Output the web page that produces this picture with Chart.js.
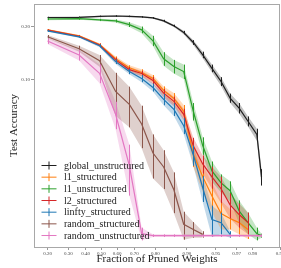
<!DOCTYPE html>
<html>
<head>
<meta charset="utf-8">
<style>
  html, body { margin: 0; padding: 0; background: #fff; }
</style>
</head>
<body>
<canvas id="myChart" width="281" height="268"></canvas>

<script src="https://cdn.jsdelivr.net/npm/chart.js"></script>
<script>
// fraction of weights pruned after each pruning round
const fractions = [0.2, 0.36, 0.488, 0.5904, 0.6723, 0.7379, 0.7903, 0.8322, 0.8658, 0.8926,
  0.9141, 0.9313, 0.945, 0.956, 0.9648, 0.9719, 0.9775, 0.982, 0.984];

const xTicks = [0.2, 0.3, 0.4, 0.5, 0.6, 0.7, 0.8, 0.9, 0.95, 0.97, 0.98, 0.99];
const yTicks = [0.1, 0.2];

// mean test accuracy per method
const globalUnstructured = [0.224, 0.2245, 0.227, 0.228, 0.227, 0.2255, 0.223, 0.215, 0.2025, 0.1865,
  0.1645, 0.140, 0.117, 0.0977, 0.0775, 0.0672, 0.0556, 0.0459, 0.0245];
const l1Structured = [0.1928, 0.179, 0.160, 0.1332, 0.118, 0.1105, 0.1018, 0.0863, 0.0771, 0.0642,
  0.0344, 0.0245, 0.0184, 0.0141, 0.0131, 0.0123, 0.0111];
const l1Unstructured = [0.220, 0.221, 0.2176, 0.215, 0.2057, 0.1928, 0.168, 0.133, 0.12, 0.112,
  0.0642, 0.039, 0.0268, 0.0224, 0.0199, 0.0147, 0.0123, 0.0104, 0.0101];
const l2Structured = [0.192, 0.178, 0.159, 0.131, 0.115, 0.109, 0.099, 0.083, 0.074, 0.0615,
  0.0387, 0.0297, 0.0245, 0.0205, 0.0161, 0.0139, 0.0123];
const linftyStructured = [0.1905, 0.1768, 0.1577, 0.128, 0.112, 0.1018, 0.0899, 0.076, 0.066, 0.0521,
  0.0339, 0.0208, 0.0129, 0.0123, 0.0103];
const randomStructured = [0.1768, 0.1517, 0.1297, 0.085, 0.0709, 0.0535, 0.0349, 0.0284, 0.0202, 0.0120,
  0.0111, 0.0103];
const randomUnstructured = [0.1675, 0.1398, 0.1094, 0.0615, 0.029, 0.0104, 0.0101, 0.0101, 0.0101, 0.0101,
  0.0101, 0.0101, 0.0101, 0.0101, 0.0101, 0.0101, 0.0101, 0.0101, 0.0101];

// std of test accuracy (error bars and shaded band)
const globalUnstructuredErr = [0.002, 0.002, 0.002, 0.002, 0.002, 0.002, 0.002, 0.003, 0.003, 0.004,
  0.005, 0.006, 0.006, 0.006, 0.005, 0.005, 0.004, 0.004, 0.003];
const l1StructuredErr = [0.002, 0.002, 0.003, 0.004, 0.004, 0.005, 0.005, 0.005, 0.006, 0.006,
  0.006, 0.005, 0.004, 0.003, 0.002, 0.002, 0.0015];
const l1UnstructuredErr = [0.003, 0.003, 0.003, 0.004, 0.006, 0.008, 0.011, 0.012, 0.011, 0.011,
  0.008, 0.005, 0.004, 0.003, 0.003, 0.0025, 0.002, 0.001, 0.0003];
const l2StructuredErr = [0.002, 0.002, 0.003, 0.004, 0.004, 0.004, 0.005, 0.005, 0.005, 0.005,
  0.005, 0.004, 0.004, 0.004, 0.003, 0.0025, 0.002];
const linftyStructuredErr = [0.002, 0.002, 0.003, 0.004, 0.004, 0.005, 0.005, 0.006, 0.006, 0.006,
  0.005, 0.004, 0.003, 0.002, 0.0005];
const randomStructuredErr = [0.004, 0.006, 0.01, 0.025, 0.02, 0.016, 0.011, 0.008, 0.006, 0.0025,
  0.0013, 0.0005];
const randomUnstructuredErr = [0.006, 0.01, 0.014, 0.012, 0.0105, 0.001, 0.0002, 0.0002, 0.0002, 0.0002,
  0.0002, 0.0002, 0.0002, 0.0002, 0.0002, 0.0002, 0.0002, 0.0002, 0.0002];

const series = [
  { name: 'global_unstructured', color: '#1f1f1f', band: 'rgba(31,31,31,0.28)', mean: globalUnstructured, err: globalUnstructuredErr },
  { name: 'l1_structured', color: '#ff7f0e', band: 'rgba(255,127,14,0.28)', mean: l1Structured, err: l1StructuredErr },
  { name: 'l1_unstructured', color: '#2ca02c', band: 'rgba(44,160,44,0.28)', mean: l1Unstructured, err: l1UnstructuredErr },
  { name: 'l2_structured', color: '#d62728', band: 'rgba(214,39,40,0.28)', mean: l2Structured, err: l2StructuredErr },
  { name: 'linfty_structured', color: '#1f77b4', band: 'rgba(31,119,180,0.28)', mean: linftyStructured, err: linftyStructuredErr },
  { name: 'random_structured', color: '#8c564b', band: 'rgba(140,86,75,0.28)', mean: randomStructured, err: randomStructuredErr },
  { name: 'random_unstructured', color: '#e377c2', band: 'rgba(227,119,194,0.28)', mean: randomUnstructured, err: randomUnstructuredErr }
];

// logit axes: values are passed through logit, ticks are shown back as fractions
const logit = p => Math.log(p / (1 - p));
const expit = z => 1 / (1 + Math.exp(-z));
const toPoints = arr => arr.map((v, j) => ({ x: logit(fractions[j]), y: logit(v) }));

const datasets = [];
series.forEach((s, i) => {
  datasets.push({
    label: s.name, data: toPoints(s.mean), borderColor: s.color, borderWidth: 1.2,
    pointRadius: 0, fill: false, tension: 0, order: 6 - i
  });
});
series.forEach(s => {
  datasets.push({
    label: '_lo', data: toPoints(s.mean.map((v, j) => v - s.err[j])),
    borderWidth: 0, pointRadius: 0, fill: false, order: 20
  });
  datasets.push({
    label: '_hi', data: toPoints(s.mean.map((v, j) => v + s.err[j])),
    borderWidth: 0, pointRadius: 0, backgroundColor: s.band, fill: '-1', order: 20
  });
});

const errorBars = {
  id: 'errorBars',
  afterDatasetsDraw(chart) {
    const { ctx, chartArea, scales: { x, y } } = chart;
    ctx.save();
    ctx.beginPath();
    ctx.rect(chartArea.left, chartArea.top, chartArea.right - chartArea.left, chartArea.bottom - chartArea.top);
    ctx.clip();
    ctx.lineWidth = 1;
    series.forEach(s => {
      ctx.strokeStyle = s.color;
      s.mean.forEach((v, j) => {
        const px = Math.round(x.getPixelForValue(logit(fractions[j]))) + 0.5;
        ctx.beginPath();
        ctx.moveTo(px, y.getPixelForValue(logit(v - s.err[j])));
        ctx.lineTo(px, y.getPixelForValue(logit(v + s.err[j])));
        ctx.stroke();
      });
    });
    ctx.restore();
  }
};

const frameAndLegend = {
  id: 'frameAndLegend',
  afterDraw(chart) {
    const { ctx, chartArea } = chart;
    ctx.save();
    ctx.strokeStyle = '#a8a8a8';
    ctx.lineWidth = 1;
    ctx.strokeRect(chartArea.left + 0.5, chartArea.top + 0.5,
      chartArea.right - chartArea.left - 1, chartArea.bottom - chartArea.top);

    ctx.font = '10px "Liberation Serif"';
    ctx.textBaseline = 'middle';
    const lx = chartArea.left + 7.5;
    series.forEach((s, i) => {
      const cy = 165.5 + i * 11.67;
      ctx.strokeStyle = s.color;
      ctx.beginPath();
      ctx.moveTo(lx, cy); ctx.lineTo(lx + 15, cy);
      ctx.moveTo(lx + 7.5, cy - 4); ctx.lineTo(lx + 7.5, cy + 4);
      ctx.stroke();
      ctx.fillStyle = '#222';
      ctx.fillText(s.name, lx + 22.5, cy + 0.5);
    });
    ctx.restore();
  }
};

const ctx = document.getElementById('myChart');

new Chart(ctx, {
  type: 'line',
  data: { datasets: datasets },
  plugins: [errorBars, frameAndLegend],
  options: {
    responsive: false,
    devicePixelRatio: 1,
    animation: false,
    layout: { autoPadding: false, padding: { top: 2, right: 1, left: 0, bottom: 0 } },
    plugins: { legend: { display: false }, tooltip: { enabled: false } },
    scales: {
      x: {
        type: 'linear',
        min: logit(0.15),
        max: logit(0.99),
        afterBuildTicks: sc => { sc.ticks = xTicks.map(p => ({ value: logit(p) })); },
        afterFit: sc => { sc.height = 21; sc.paddingLeft = 0; sc.paddingRight = 0; },
        ticks: {
          callback: v => expit(v).toFixed(2),
          autoSkip: false, maxRotation: 0, padding: 1,
          font: { family: 'Liberation Serif', size: 5 }, color: '#444'
        },
        grid: { drawOnChartArea: false, drawTicks: true, tickLength: 3, color: '#999' },
        border: { display: false },
        title: {
          display: true, text: 'Fraction of Pruned Weights', color: '#222',
          font: { family: 'Liberation Serif', size: 11 }, padding: { top: 0, bottom: 2 }
        }
      },
      y: {
        type: 'linear',
        min: logit(0.0085),
        max: logit(0.262),
        afterBuildTicks: sc => { sc.ticks = yTicks.map(p => ({ value: logit(p) })); },
        afterFit: sc => { sc.width = 34; },
        ticks: {
          callback: v => expit(v).toFixed(2),
          padding: 1,
          font: { family: 'Liberation Serif', size: 5 }, color: '#444'
        },
        grid: { drawOnChartArea: false, drawTicks: true, tickLength: 3, color: '#999' },
        border: { display: false },
        title: {
          display: true, text: 'Test Accuracy', color: '#222',
          font: { family: 'Liberation Serif', size: 11 }, padding: { top: 8, bottom: 0 }
        }
      }
    }
  }
});
</script>
</body>
</html>
